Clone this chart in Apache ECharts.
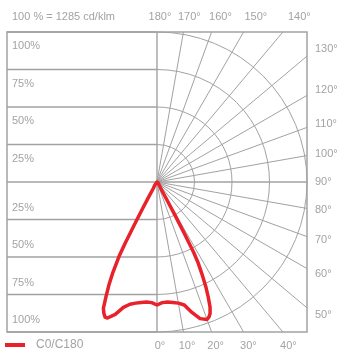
<!DOCTYPE html>
<html>
<head>
<meta charset="utf-8">
<script src="https://cdn.jsdelivr.net/npm/echarts@6/dist/echarts.min.js"></script>
<style>
  html, body { margin: 0; padding: 0; background: #fff; }
  #chart { width: 342px; height: 352px; }
</style>
</head>
<body>
<div id="chart"></div>
<script>
// Luminous intensity distribution, C0/C180 plane, relative to 1285 cd/klm
const gammaDeg = [0, 2.5, 5, 7.5, 10, 12.5, 15, 17.5, 20, 21, 22, 23, 24, 25, 26, 27, 27.5, 28, 28.5, 29, 30, 32, 35, 40, 50, 60, 75, 90];
const c0Values = [82, 80.5, 80.3, 81, 82, 84, 90, 95.5, 97.5, 96.5, 94.5, 90.5, 84, 77, 68.5, 60, 53, 39, 24, 13, 6, 4, 2.5, 1.5, 1, 0.5, 0.2, 0];
const c180Values = [82, 80.5, 80.3, 81, 82, 83.5, 86.5, 92.5, 96.5, 96.5, 94.5, 91.5, 83.5, 76, 67, 56, 46, 30, 19, 11, 5, 3.5, 2.5, 1.5, 1, 0.5, 0.2, 0];

// Grid and label definitions
const ringPercents = [25, 50, 75, 100];
const ringLabels = ['25%', '50%', '75%', '100%'];
const rayAngles = [10, 20, 30, 40, 50, 60, 70, 80, 100, 110, 120, 130, 140, 150, 160, 170];
const topAngleLabels = [180, 170, 160, 150, 140];
const rightAngleLabels = [130, 120, 110, 100, 90, 80, 70, 60, 50];
const bottomAngleLabels = [0, 10, 20, 30, 40];
const unitText = '100 % = 1285 cd/klm';
const seriesName = 'C0/C180';

const GRID_COLOR = '#a2a2a2';
const TEXT_COLOR = '#a3a3a3';
const FONT = '11px "Liberation Sans", Arial, sans-serif';
const rad = d => d * Math.PI / 180;

// polar curve: C180 on the left (negative angles), C0 on the right
const curve = [];
for (let i = gammaDeg.length - 1; i >= 0; i--) curve.push([c180Values[i], -gammaDeg[i]]);
for (let i = 1; i < gammaDeg.length; i++) curve.push([c0Values[i], gammaDeg[i]]);

// straight grid segments in percent space: [x1, y1, x2, y2]
const thickSegs = [];
ringPercents.forEach(p => { thickSegs.push([-100, p, 0, p]); thickSegs.push([-100, -p, 0, -p]); });
thickSegs.push([-100, 0, 100, 0]);
thickSegs.push([0, -100, 0, 100]);

const raySegs = rayAngles.map(a => {
  const s = Math.sin(rad(a)), c = -Math.cos(rad(a));
  const t = Math.min(100 / Math.abs(s), Math.abs(c) > 1e-9 ? 100 / Math.abs(c) : Infinity);
  return [0, 0, s * t, c * t];
});

function segRenderer(width) {
  return function (params, api) {
    const p1 = api.coord([api.value(0), api.value(1)]);
    const p2 = api.coord([api.value(2), api.value(3)]);
    return { type: 'line', shape: { x1: p1[0], y1: p1[1], x2: p2[0], y2: p2[1] },
             style: { stroke: GRID_COLOR, lineWidth: width } };
  };
}

const chart = echarts.init(document.getElementById('chart'), null, { renderer: 'canvas' });

chart.setOption({
  animation: false,
  backgroundColor: '#fff',
  grid: { left: 7, top: 32, width: 300, height: 300 },
  xAxis: { type: 'value', min: -100, max: 100, show: false },
  yAxis: { type: 'value', min: -100, max: 100, show: false },
  polar: { center: [157, 182], radius: 150 },
  angleAxis: { type: 'value', min: -180, max: 180, startAngle: 90, clockwise: false, show: false },
  radiusAxis: { type: 'value', min: 0, max: 100, show: false },
  legend: {
    left: 5, top: 339, padding: 0, icon: 'rect', itemWidth: 20, itemHeight: 4,
    textStyle: { color: TEXT_COLOR, fontSize: 12, fontFamily: '"Liberation Sans", Arial, sans-serif', padding: [0, 0, 0, 6] },
    data: [seriesName]
  },
  graphic: [{
    type: 'text', left: 12, top: 11,
    style: { text: unitText, fill: TEXT_COLOR, font: FONT }
  }],
  series: [
    {
      type: 'custom', coordinateSystem: 'cartesian2d', z: 1, silent: true,
      data: [[0]],
      renderItem: function (params, api) {
        const a = api.coord([-100, 100]), b = api.coord([100, -100]);
        return { type: 'rect', shape: { x: a[0], y: a[1], width: b[0] - a[0], height: b[1] - a[1] },
                 style: { fill: null, stroke: GRID_COLOR, lineWidth: 1.5 } };
      }
    },
    { type: 'custom', coordinateSystem: 'cartesian2d', z: 1, silent: true, data: thickSegs, renderItem: segRenderer(1.4) },
    { type: 'custom', coordinateSystem: 'cartesian2d', z: 1, silent: true, data: raySegs, renderItem: segRenderer(1) },
    {
      type: 'custom', coordinateSystem: 'cartesian2d', z: 1, silent: true,
      data: ringPercents.map(p => [p]),
      renderItem: function (params, api) {
        const c = api.coord([0, 0]);
        const r = api.size([api.value(0), 0])[0];
        return { type: 'arc', shape: { cx: c[0], cy: c[1], r: r, startAngle: -Math.PI / 2, endAngle: Math.PI / 2, clockwise: true },
                 style: { fill: null, stroke: GRID_COLOR, lineWidth: 1 } };
      }
    },
    {
      // percentage labels on the left half
      type: 'custom', coordinateSystem: 'cartesian2d', z: 3, silent: true,
      data: ringPercents.map(p => [p]),
      renderItem: function (params, api) {
        const p = api.value(0);
        const up = api.coord([-100, p]);
        const down = api.coord([-100, -p]);
        const txt = ringLabels[params.dataIndex];
        return { type: 'group', children: [
          { type: 'text', x: up[0] + 5, y: up[1] + 14, style: { text: txt, fill: TEXT_COLOR, font: FONT, verticalAlign: 'middle' } },
          { type: 'text', x: down[0] + 5, y: down[1] - 12, style: { text: txt, fill: TEXT_COLOR, font: FONT, verticalAlign: 'middle' } }
        ] };
      }
    },
    {
      // angle labels around the right half
      type: 'custom', coordinateSystem: 'cartesian2d', z: 3, silent: true,
      data: [[0]],
      renderItem: function (params, api) {
        const c = api.coord([0, 0]);
        const kids = [];
        topAngleLabels.forEach(a => {
          const d = c[1] - 16;
          kids.push({ type: 'text', x: c[0] + d * Math.tan(rad(180 - a)) + 3, y: 17,
                      style: { text: a + '°', fill: TEXT_COLOR, font: FONT, align: 'center', verticalAlign: 'middle' } });
        });
        bottomAngleLabels.forEach(a => {
          kids.push({ type: 'text', x: c[0] + 153 * Math.tan(rad(a)) + 3, y: 346,
                      style: { text: a + '°', fill: TEXT_COLOR, font: FONT, align: 'center', verticalAlign: 'middle' } });
        });
        rightAngleLabels.forEach(a => {
          const y = c[1] + 159 / Math.tan(rad(a));
          kids.push({ type: 'text', x: 315, y: y,
                      style: { text: a + '°', fill: TEXT_COLOR, font: FONT, align: 'left', verticalAlign: 'middle' } });
        });
        return { type: 'group', children: kids };
      }
    },
    {
      name: seriesName,
      type: 'line', coordinateSystem: 'polar', z: 5,
      data: curve,
      showSymbol: false, smooth: false,
      lineStyle: { color: '#e8212b', width: 3.5, join: 'round', cap: 'round' },
      itemStyle: { color: '#e8212b' }
    }
  ]
});
</script>
</body>
</html>
